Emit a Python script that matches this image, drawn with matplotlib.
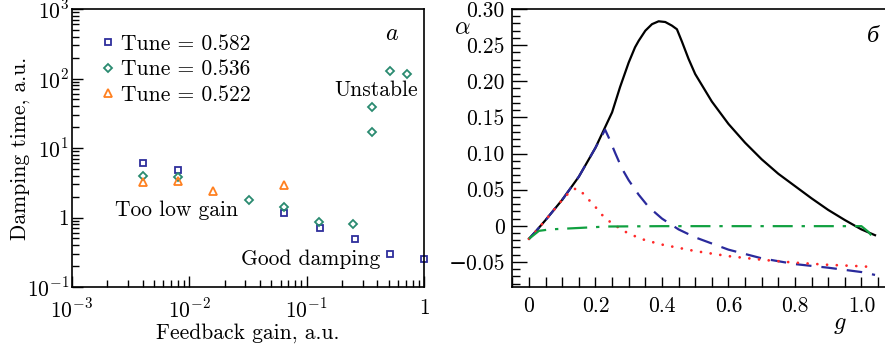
import matplotlib
matplotlib.use("Agg")
import matplotlib.pyplot as plt
import numpy as np
from matplotlib.ticker import FixedLocator, FixedFormatter, LogLocator, NullFormatter, MultipleLocator

plt.rcParams['font.family'] = ['cmr10', 'DejaVu Serif']
plt.rcParams['mathtext.fontset'] = 'cm'
plt.rcParams['axes.formatter.use_mathtext'] = True
plt.rcParams['axes.unicode_minus'] = True

# ---- panel a data ----
gain_582 = [0.004, 0.008, 0.064, 0.131, 0.26, 0.51, 1.0]
tau_582 = [6.1, 4.9, 1.16, 0.70, 0.49, 0.295, 0.25]
gain_536 = [0.004, 0.008, 0.032, 0.064, 0.128, 0.25, 0.36, 0.36, 0.51, 0.71]
tau_536 = [4.0, 3.83, 1.77, 1.40, 0.87, 0.81, 16.8, 39.0, 128.0, 116.0]
gain_522 = [0.004, 0.008, 0.016, 0.064]
tau_522 = [3.24, 3.35, 2.43, 2.96]
labels_a = ['Tune = 0.582', 'Tune = 0.536', 'Tune = 0.522']
xtick_a = [1e-3, 1e-2, 1e-1, 1]
xticklabels_a = ['$10^{-3}$', '$10^{-2}$', '$10^{-1}$', '$1$']
ytick_a = [1e-1, 1, 1e1, 1e2, 1e3]
yticklabels_a = ['$10^{-1}$', '$1$', '$10^{1}$', '$10^{2}$', '$10^{3}$']

# ---- panel b data ----
g_black = [0.0, 0.02, 0.05, 0.10, 0.15, 0.20, 0.25, 0.274, 0.30, 0.319, 0.33, 0.35, 0.37, 0.39, 0.41,
           0.43, 0.445, 0.46, 0.48, 0.50, 0.55, 0.60, 0.65, 0.70, 0.75, 0.80, 0.85,
           0.90, 0.95, 1.00, 1.041]
a_black = [-0.018, -0.008, 0.008, 0.036, 0.068, 0.108, 0.157, 0.192, 0.226, 0.247, 0.256, 0.270, 0.279,
           0.283, 0.282, 0.277, 0.272, 0.255, 0.231, 0.210, 0.172, 0.141, 0.115, 0.092,
           0.072, 0.055, 0.038, 0.022, 0.008, -0.005, -0.013]
g_blue = [0.0, 0.02, 0.05, 0.10, 0.15, 0.20, 0.229, 0.24, 0.26, 0.28, 0.30, 0.33, 0.36,
          0.40, 0.45, 0.50, 0.60, 0.70, 0.80, 0.90, 1.00, 1.041]
a_blue = [-0.018, -0.008, 0.008, 0.036, 0.068, 0.108, 0.133, 0.122, 0.100, 0.079, 0.063,
          0.043, 0.026, 0.010, -0.005, -0.016, -0.033, -0.045, -0.053, -0.058, -0.064, -0.068]
g_red = [0.0, 0.02, 0.05, 0.10, 0.125, 0.143, 0.16, 0.18, 0.20, 0.22, 0.25, 0.30, 0.35,
         0.40, 0.50, 0.60, 0.70, 0.80, 0.90, 1.00, 1.03]
a_red = [-0.018, -0.008, 0.008, 0.036, 0.048, 0.052, 0.046, 0.036, 0.026, 0.015, 0.003,
         -0.011, -0.020, -0.026, -0.035, -0.042, -0.047, -0.051, -0.054, -0.056, -0.057]
g_green = [0.0, 0.03, 0.063, 0.15, 0.234, 0.4, 0.6, 0.8, 1.0, 1.02, 1.041]
a_green = [-0.018, -0.007, -0.005, -0.003, -0.001, -0.0005, -0.0005, -0.0005, -0.0005, -0.008, -0.019]

fig = plt.figure(figsize=(8.85, 3.45), dpi=100)
FS = 15.5

# ---------------- panel a ----------------
ax1 = fig.add_axes([72/885, 1 - 287/345, (424 - 72)/885, (287 - 9)/345])
ax1.set_xscale('log')
ax1.set_yscale('log')
ax1.set_xlim(1e-3, 1)
ax1.set_ylim(1e-1, 1e3)
ms = 4.5
ax1.plot(gain_582, tau_582, 's', ms=ms, mfc='none', mec='#2e2e9c', mew=1.3, label=labels_a[0], clip_on=False)
ax1.plot(gain_536, tau_536, 'D', ms=ms - 0.5, mfc='none', mec='#2a8a70', mew=1.3, label=labels_a[1], clip_on=False)
ax1.plot(gain_522, tau_522, '^', ms=ms + 1.5, mfc='none', mec='#ff8020', mew=1.3, label=labels_a[2], clip_on=False)

ax1.xaxis.set_major_locator(FixedLocator(xtick_a))
ax1.xaxis.set_major_formatter(FixedFormatter(xticklabels_a))
ax1.yaxis.set_major_locator(FixedLocator(ytick_a))
ax1.yaxis.set_major_formatter(FixedFormatter(yticklabels_a))
ax1.xaxis.set_minor_locator(LogLocator(base=10, subs=np.arange(2, 10), numticks=20))
ax1.yaxis.set_minor_locator(LogLocator(base=10, subs=np.arange(2, 10), numticks=20))
ax1.xaxis.set_minor_formatter(NullFormatter())
ax1.yaxis.set_minor_formatter(NullFormatter())
ax1.tick_params(which='both', direction='in', top=False, right=False, labelsize=FS, width=1.0)
ax1.tick_params(which='major', length=8)
ax1.tick_params(which='minor', length=5)
ax1.tick_params(axis='y', which='major', pad=2)
ax1.tick_params(axis='x', which='major', pad=8)
for s in ax1.spines.values():
    s.set_linewidth(1.2)
ax1.set_xlabel('Feedback gain, a.u.', fontsize=FS, labelpad=1)
ax1.set_ylabel('Damping time, a.u.', fontsize=FS, labelpad=-2)
leg = ax1.legend(loc='upper left', bbox_to_anchor=(0.093, 0.91), frameon=False, fontsize=FS,
                 handlelength=0.3, handletextpad=0.45, labelspacing=0.28, borderaxespad=0,
                 borderpad=0)
ax1.text(0.909, 0.912, '$a$', transform=ax1.transAxes, fontsize=FS + 2, ha='center', va='center')
ax1.text(0.864, 0.709, 'Unstable', transform=ax1.transAxes, fontsize=FS, ha='center', va='center')
ax1.text(0.298, 0.277, 'Too low gain', transform=ax1.transAxes, fontsize=FS, ha='center', va='center')
ax1.text(0.679, 0.10, 'Good damping', transform=ax1.transAxes, fontsize=FS, ha='center', va='center')

# ---------------- panel b ----------------
ax2 = fig.add_axes([511.7/885, 1 - 287/345, (886 - 511.7)/885, (287 - 9)/345])
ax2.set_xlim(-0.052, 1.074)
ax2.set_ylim(-0.0847, 0.30)
ax2.plot(g_black, a_black, '-', color='black', lw=1.6)
ax2.plot(g_blue, a_blue, color='#2a2a9c', lw=1.6, dashes=(7, 4.5))
ax2.plot(g_red, a_red, color='#ff2a2a', lw=2.0, dashes=(0.01, 3.5), dash_capstyle='round')
ax2.plot(g_green, a_green, color='#10a040', lw=1.6, dashes=(9, 4, 1.5, 4))
ax2.xaxis.set_major_locator(FixedLocator([0, 0.2, 0.4, 0.6, 0.8, 1.0]))
ax2.xaxis.set_major_formatter(FixedFormatter(['0', '0.2', '0.4', '0.6', '0.8', '1.0']))
ax2.xaxis.set_minor_locator(MultipleLocator(0.05))
ax2.yaxis.set_major_locator(FixedLocator([-0.05, 0, 0.05, 0.10, 0.15, 0.20, 0.25, 0.30]))
ax2.yaxis.set_major_formatter(FixedFormatter(['−0.05', '0', '0.05', '0.10', '0.15', '0.20', '0.25', '0.30']))
ax2.yaxis.set_minor_locator(MultipleLocator(0.01))
ax2.tick_params(which='both', direction='in', top=False, right=False, labelsize=FS, width=1.0)
ax2.tick_params(axis='y', which='major', length=11, pad=5)
ax2.tick_params(axis='y', which='minor', length=6)
ax2.tick_params(axis='x', which='both', length=7, pad=7)
ax2.spines['right'].set_visible(False)
for s in ax2.spines.values():
    s.set_linewidth(1.2)
ax2.text(-0.2015, 0.2736, r'$\alpha$', fontsize=FS + 2, ha='center', va='center', transform=ax2.transData)
ax2.text(0.935, -0.1375, '$g$', fontsize=FS + 2, ha='center', va='center', transform=ax2.transData)
ax2.text(0.965, 0.9, 'б', transform=ax2.transAxes, fontsize=FS + 2, ha='center', va='center',
         family='Liberation Serif', style='italic')

fig.savefig('out.png', dpi=100)
